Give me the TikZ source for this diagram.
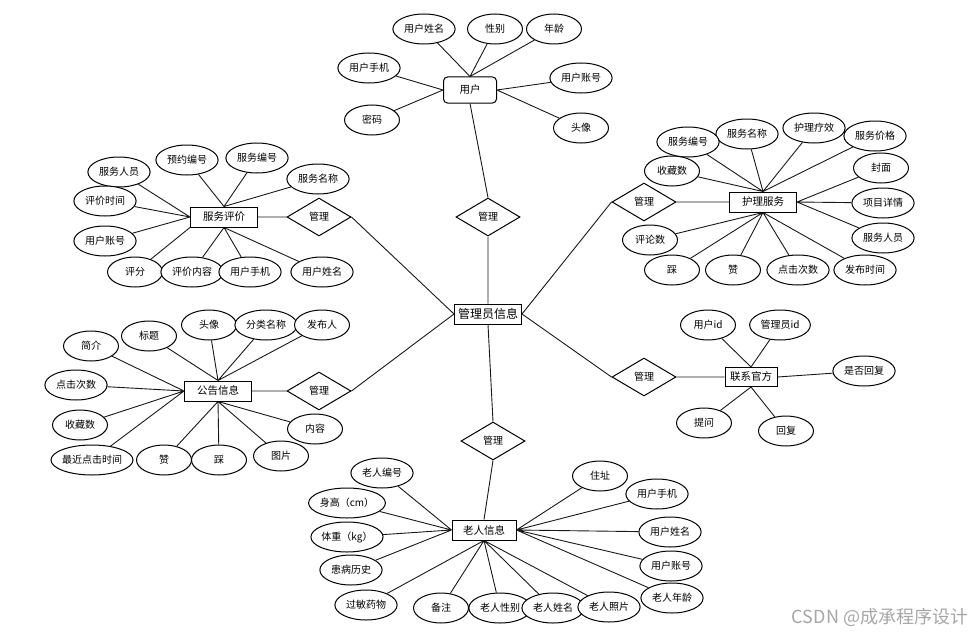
\documentclass[tikz,border=0pt]{standalone}
\usepackage{fontspec}
\setmainfont{Noto Sans CJK SC}
\usetikzlibrary{shapes.geometric,backgrounds}
\tikzset{
  ent/.style={draw,line width=1pt,fill=white,rectangle,minimum width=67pt,minimum height=20pt,inner sep=1pt,font=\fontsize{10.5}{12}\selectfont},
  attr/.style={draw,line width=1pt,fill=white,ellipse,minimum width=55pt,minimum height=30pt,inner xsep=2pt,inner ysep=0pt,font=\fontsize{10}{12}\selectfont},
  rel/.style={draw,line width=1pt,fill=white,diamond,aspect=1.68,minimum width=64pt,minimum height=38pt,inner sep=0pt,font=\fontsize{10}{12}\selectfont},
  link/.style={line width=0.9pt,draw=black!90}
}

\begin{document}
\begin{tikzpicture}[x=1pt,y=-1pt]
  \useasboundingbox (0,0) rectangle (977,634);

  % Central entity
  \node[ent,font=\fontsize{12}{14}\selectfont] (AD) at (488,314) {管理员信息};

  % Relationships
  \node[rel] (M1) at (488,217) {管理};
  \node[rel] (M2) at (319,217) {管理};
  \node[rel] (M3) at (644,202) {管理};
  \node[rel] (M4) at (319,391) {管理};
  \node[rel] (M5) at (644,377) {管理};
  \node[rel] (M6) at (493,441) {管理};

  % User
  \node[ent,rounded corners=4pt,minimum width=53pt,minimum height=26pt] (U) at (470,90) {用户};
  \node[attr] (U1) at (424,29) {用户姓名};
  \node[attr] (U2) at (495,29) {性别};
  \node[attr] (U3) at (554,29) {年龄};
  \node[attr] (U4) at (369,68) {用户手机};
  \node[attr] (U5) at (372,120) {密码};
  \node[attr] (U6) at (581,78) {用户账号};
  \node[attr] (U7) at (581,128) {头像};

  % Service evaluation
  \node[ent] (SE) at (224,217) {服务评价};
  \node[attr] (S1) at (119,172) {服务人员};
  \node[attr] (S2) at (187,160) {预约编号};
  \node[attr] (S3) at (257,158) {服务编号};
  \node[attr] (S4) at (318,179) {服务名称};
  \node[attr] (S5) at (105,201) {评价时间};
  \node[attr] (S6) at (105,241) {用户账号};
  \node[attr] (S7) at (135,272) {评分};
  \node[attr] (S8) at (192,272) {评价内容};
  \node[attr] (S9) at (250,272) {用户手机};
  \node[attr] (S10) at (322,272) {用户姓名};

  % Nursing service
  \node[ent] (NS) at (763,202) {护理服务};
  \node[attr] (N2) at (747,134) {服务名称};
  \node[attr] (N1) at (688,142) {服务编号};
  \node[attr] (N3) at (814,128) {护理疗效};
  \node[attr] (N4) at (875,136) {服务价格};
  \node[attr] (N5) at (672,171) {收藏数};
  \node[attr] (N6) at (881,168) {封面};
  \node[attr] (N7) at (883,203) {项目详情};
  \node[attr] (N8) at (883,238) {服务人员};
  \node[attr] (N9) at (650,240) {评论数};
  \node[attr] (N10) at (672,270) {踩};
  \node[attr] (N11) at (733,270) {赞};
  \node[attr] (N12) at (798,270) {点击次数};
  \node[attr] (N13) at (865,270) {发布时间};

  % Announcement
  \node[ent] (AN) at (218,391) {公告信息};
  \node[attr] (A1) at (91,346) {简介};
  \node[attr] (A2) at (149,336) {标题};
  \node[attr] (A3) at (209,325) {头像};
  \node[attr] (A4) at (266,325) {分类名称};
  \node[attr] (A5) at (322,325) {发布人};
  \node[attr] (A6) at (76,385) {点击次数};
  \node[attr] (A7) at (80,425) {收藏数};
  \node[attr,inner xsep=-1pt] (A8) at (92,460) {最近点击时间};
  \node[attr] (A9) at (164,460) {赞};
  \node[attr] (A10) at (219,460) {踩};
  \node[attr] (A11) at (281,456) {图片};
  \node[attr] (A12) at (315,429) {内容};

  % Contact
  \node[ent,minimum width=52pt,minimum height=19pt] (CO) at (751,377) {联系官方};
  \node[attr] (C1) at (708,325) {用户id};
  \node[attr] (C2) at (780,325) {管理员id};
  \node[attr] (C3) at (864,371) {是否回复};
  \node[attr] (C4) at (704,423) {提问};
  \node[attr] (C5) at (786,431) {回复};

  % Elderly
  \node[ent,minimum width=64pt] (EL) at (484,530) {老人信息};
  \node[attr] (E1) at (382,473) {老人编号};
  \node[attr,inner xsep=0pt] (E2) at (347,503) {身高（cm）};
  \node[attr,inner xsep=0pt] (E3) at (347,537) {体重（kg）};
  \node[attr] (E4) at (351,570) {患病历史};
  \node[attr] (E5) at (366,605) {过敏药物};
  \node[attr] (E6) at (441,608) {备注};
  \node[attr] (E7) at (500,608) {老人性别};
  \node[attr] (E8) at (553,608) {老人姓名};
  \node[attr] (E9) at (609,607) {老人照片};
  \node[attr] (E10) at (672,598) {老人年龄};
  \node[attr] (E11) at (600,476) {住址};
  \node[attr] (E12) at (657,494) {用户手机};
  \node[attr] (E13) at (670,532) {用户姓名};
  \node[attr] (E14) at (671,566) {用户账号};

  % Watermark
  \node[text=black!35,font=\fontsize{18}{20}\selectfont] (WM) at (880,617) {CSDN @成承程序设计};

  \begin{scope}[on background layer]
    % Relationship links
    \draw[link] (U.south) -- (M1.north) (M1.south) -- (AD.north);
    \draw[link] (SE.east) -- (M2.west) (M2.east) -- (AD.west);
    \draw[link] (NS.west) -- (M3.east) (M3.west) -- (AD.east);
    \draw[link] (AN.east) -- (M4.west) (M4.east) -- (AD.west);
    \draw[link] (CO.west) -- (M5.east) (M5.west) -- (AD.east);
    \draw[link] (AD.south) -- (M6.north) (M6.south) -- (EL.north);

    % User attributes
    \draw[link] (U.north) -- (U1) (U.north) -- (U2) (U.north) -- (U3);
    \draw[link] (U.west) -- (U4) (U.west) -- (U5);
    \draw[link] (U.east) -- (U6) (U.east) -- (U7);

    % Service evaluation attributes
    \draw[link] (SE.west) -- (S1) (SE.west) -- (S5) (SE.west) -- (S6) (SE.south west) -- (S7);
    \draw[link] (SE.north) -- (S2) (SE.north) -- (S3) (SE.north) -- (S4);
    \draw[link] (SE.south) -- (S8) (SE.south) -- (S9) (SE.south) -- (S10);

    % Nursing service attributes
    \draw[link] (NS.north) -- (N1) (NS.north) -- (N2) (NS.north) -- (N3) (NS.north) -- (N4) (NS.north) -- (N5);
    \draw[link] (NS.east) -- (N6) (NS.east) -- (N7) (NS.east) -- (N8);
    \draw[link] (NS.south) -- (N9) (NS.south) -- (N10) (NS.south) -- (N11) (NS.south) -- (N12) (NS.south) -- (N13);

    % Announcement attributes
    \draw[link] (AN.west) -- (A1) (AN.west) -- (A6) (AN.west) -- (A7) (AN.west) -- (A8);
    \draw[link] (AN.north) -- (A2) (AN.north) -- (A3) (AN.north) -- (A4) (AN.north) -- (A5);
    \draw[link] (AN.south) -- (A9) (AN.south) -- (A10) (AN.south) -- (A11) (AN.south) -- (A12);

    % Contact attributes
    \draw[link] (CO.north) -- (C1) (CO.north) -- (C2) (CO.east) -- (C3);
    \draw[link] (CO.south) -- (C4) (CO.south) -- (C5);

    % Elderly attributes
    \draw[link] (EL.west) -- (E1) (EL.west) -- (E2) (EL.west) -- (E3) (EL.west) -- (E4);
    \draw[link] (EL.south) -- (E5) (EL.south) -- (E6) (EL.south) -- (E7) (EL.south) -- (E8) (EL.south) -- (E9);
    \draw[link] (EL.east) -- (E10) (EL.east) -- (E11) (EL.east) -- (E12) (EL.east) -- (E13) (EL.east) -- (E14);
  \end{scope}
\end{tikzpicture}
\end{document}
